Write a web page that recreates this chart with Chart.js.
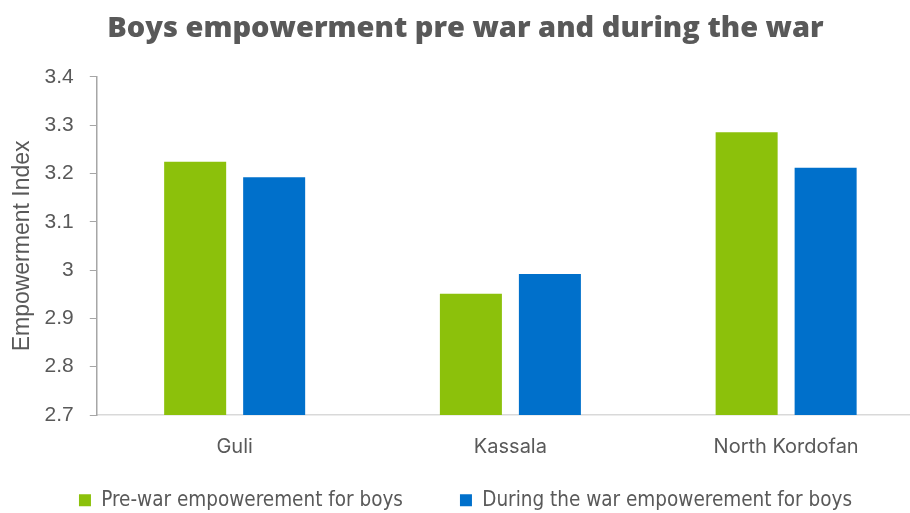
<!DOCTYPE html>
<html>
<head>
<meta charset="utf-8">
<script src="https://cdn.jsdelivr.net/npm/chart.js@4"></script>
<style>
    html, body { margin: 0; padding: 0; background: #fff; overflow: hidden; }
    .wrap { width: 930px; height: 513px; position: relative; }
</style>
</head>
<body>
<div class="wrap"><canvas id="empowermentChart"></canvas></div>
<script>
const regions = ['Guli', 'Kassala', 'North Kordofan'];
const preWar = [3.224, 2.951, 3.285];
const duringWar = [3.192, 2.992, 3.212];
const yTicks = [2.7, 2.8, 2.9, 3.0, 3.1, 3.2, 3.3, 3.4];

const grey = '#595959';

// keep the wide gap between legend items without pushing the axis up:
// the legend box is capped in height and its content drawn a bit higher
const legendLift = {
    id: 'legendLift',
    afterLayout: function (chart) {
        if (chart.legend) {
            chart.legend.top -= 38;
        }
    },
};

document.addEventListener('DOMContentLoaded', function () {
    const canvas = document.getElementById('empowermentChart');
    new Chart(canvas, {
        type: 'bar',
        data: {
            labels: regions,
            datasets: [
                {
                    label: 'Pre-war empowerement for boys',
                    data: preWar,
                    backgroundColor: '#8cc10b',
                    categoryPercentage: 0.573,
                    barPercentage: 0.785,
                },
                {
                    label: 'During the war empowerement for boys',
                    data: duringWar,
                    backgroundColor: '#0070cb',
                    categoryPercentage: 0.573,
                    barPercentage: 0.785,
                },
            ],
        },
        plugins: [legendLift],
        options: {
            responsive: true,
            maintainAspectRatio: false,
            animation: false,
            layout: {
                padding: { left: 7, right: 6, top: 4, bottom: 0 },
            },
            plugins: {
                title: {
                    display: true,
                    text: 'Boys empowerment pre war and during the war',
                    color: grey,
                    font: { family: 'Open Sans', size: 29, weight: '800' },
                    padding: { top: 7, bottom: 31 },
                },
                legend: {
                    position: 'bottom',
                    maxHeight: 42,
                    labels: {
                        color: grey,
                        font: { family: "'DejaVu Sans Condensed', 'Liberation Sans', sans-serif", size: 20.5 },
                        boxWidth: 12,
                        boxHeight: 12,
                        padding: 57,
                    },
                },
                tooltip: { enabled: false },
            },
            scales: {
                x: {
                    grid: { display: false },
                    border: { display: true, color: '#d9d9d9', width: 1.5 },
                    ticks: {
                        color: grey,
                        padding: 12,
                        font: { family: 'Inter', size: 20 },
                    },
                },
                y: {
                    min: 2.7,
                    max: 3.4,
                    afterBuildTicks: function (axis) {
                        axis.ticks = yTicks.map(function (v) { return { value: v }; });
                    },
                    grid: {
                        drawOnChartArea: false,
                        drawTicks: true,
                        tickLength: 7,
                        color: '#a6a6a6',
                    },
                    border: { display: true, color: '#a6a6a6', width: 1.5 },
                    ticks: {
                        color: grey,
                        padding: 16,
                        font: { family: 'Liberation Sans', size: 21 },
                        callback: function (value) {
                            return Math.abs(value - 3) < 1e-9 ? '3' : value.toFixed(1);
                        },
                    },
                    title: {
                        display: true,
                        text: 'Empowerment Index',
                        color: grey,
                        font: { family: 'Liberation Sans', size: 23 },
                        padding: { top: 2, bottom: -8 },
                    },
                },
            },
        },
    });
});
</script>
</body>
</html>
